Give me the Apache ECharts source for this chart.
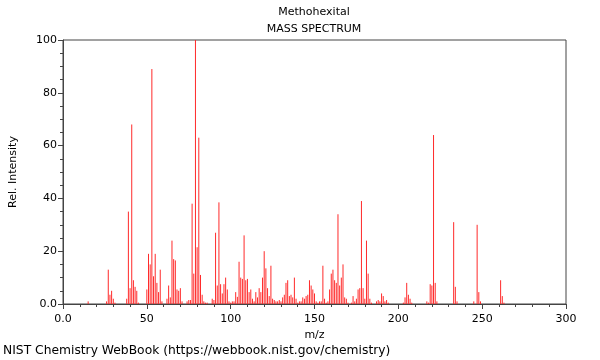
<!DOCTYPE html>
<html>
<head>
<meta charset="utf-8">
<script src="https://cdn.jsdelivr.net/npm/echarts@6/dist/echarts.min.js"></script>
<style>
html,body{margin:0;padding:0;background:#fff;}
#chart{width:600px;height:360px;}
</style>
</head>
<body>
<div id="chart"></div>
<script>
const mzValues = [15,26,27,28,29,30,31,38,39,40,41,42,43,44,45,50,51,52,53,54,55,56,57,58,59,62,63,64,65,66,67,68,69,70,71,74,75,76,77,78,79,80,81,82,83,84,85,86,89,90,91,92,93,94,95,96,97,98,99,100,101,102,103,104,105,106,107,108,109,110,111,112,113,114,115,116,117,118,119,120,121,122,123,124,125,126,127,128,129,130,131,132,133,134,135,136,137,138,139,140,141,142,143,144,145,146,147,148,149,150,151,152,153,154,155,156,157,158,159,160,161,162,163,164,165,166,167,168,169,170,172,173,174,175,176,177,178,179,180,181,182,183,184,187,188,189,190,191,192,193,194,203,204,205,206,207,208,217,218,219,220,221,222,223,233,234,235,245,247,248,249,261,262,263];
const intensities = [1,1,13,3.5,5,2,0.5,2,35,6,68,9,6.5,5,0.5,5.5,19,15,89,10.5,19,8,4.5,13,1,2,7,2.5,24,17,16.5,5.5,5,6,1,1,1.5,1.5,38,11.5,100,21.5,63,11,3.5,1,0.5,0.5,2,1.5,27,7,38.5,7.5,4,7.5,10,5.5,1,0.5,1,1,4.5,2.7,16,10,9.5,26,9,9.5,4.5,5.5,2,1,4.5,2.5,6,4.5,10,20,13.5,6,3,14.5,2,1.5,1,1,1.5,1,2.5,3.5,8,9,3,3.5,2.5,10,2,0.5,1,1,2.5,2,3,3.5,9,7,5.5,4,1,0.5,1,1,14.5,2,0.5,1,5.5,11.5,13,9,8,34,7,10,15,2.5,2,0.5,0.5,3,1,2,5.5,6,39,6,2,24,11.5,2,0.5,1,1.5,1,4,3,1,1.5,0.5,0.5,2.5,8,3.5,2,0.5,1,0.5,7.5,7,64,8,1,31,6.5,1,1,30,4.5,1,9,3,0.5];
const titleText = 'Methohexital';
const subtitleText = 'MASS SPECTRUM';
const xAxisName = 'm/z';
const yAxisName = 'Rel. Intensity';
const footerText = 'NIST Chemistry WebBook (https://webbook.nist.gov/chemistry)';

const data = mzValues.map((m, i) => [m, intensities[i]]);
const font = 'DejaVu Sans';
const chart = echarts.init(document.getElementById('chart'), null, {renderer: 'canvas'});
chart.setOption({
  animation: false,
  backgroundColor: '#ffffff',
  title: [
    {text: titleText, left: 314, top: 7, textAlign: 'center', padding: 0,
     textStyle: {fontFamily: font, fontSize: 11, fontWeight: 'normal', color: '#000'}},
    {text: subtitleText, left: 314, top: 24, textAlign: 'center', padding: 0,
     textStyle: {fontFamily: font, fontSize: 11, fontWeight: 'normal', color: '#000'}},
    {text: footerText, left: 3, top: 345, padding: 0,
     textStyle: {fontFamily: font, fontSize: 12.3, fontWeight: 'normal', color: '#000'}}
  ],
  grid: {left: 62, right: 34, top: 40, bottom: 56, show: true, borderColor: '#444', borderWidth: 1, backgroundColor: 'transparent'},
  xAxis: {
    type: 'value', min: 0, max: 300, interval: 50,
    name: xAxisName, nameLocation: 'middle', nameGap: 26,
    nameTextStyle: {fontFamily: font, fontSize: 11, color: '#000'},
    axisLine: {show: true, onZero: false, lineStyle: {color: '#444'}},
    axisTick: {show: true, length: 5, lineStyle: {color: '#444'}},
    minorTick: {show: true, splitNumber: 5, length: 3, lineStyle: {color: '#444'}},
    splitLine: {show: false},
    axisLabel: {fontFamily: font, fontSize: 11, color: '#000', margin: 10,
      formatter: v => v === 0 ? '0.0' : String(v)}
  },
  yAxis: {
    type: 'value', min: 0, max: 100, interval: 20,
    name: yAxisName, nameLocation: 'middle', nameGap: 44, nameRotate: 90,
    nameTextStyle: {fontFamily: font, fontSize: 11, color: '#000'},
    axisLine: {show: true, lineStyle: {color: '#444'}},
    axisTick: {show: true, length: 5, lineStyle: {color: '#444'}},
    minorTick: {show: true, splitNumber: 4, length: 3, lineStyle: {color: '#444'}},
    splitLine: {show: false},
    axisLabel: {fontFamily: font, fontSize: 11, color: '#000', margin: 6,
      formatter: v => v === 0 ? '0.0' : String(v)}
  },
  series: [{
    type: 'custom',
    data: data,
    clip: true,
    renderItem: function (params, api) {
      const x = api.value(0), y = api.value(1);
      const p0 = api.coord([x, 0]);
      const p1 = api.coord([x, y]);
      return {
        type: 'line',
        shape: {x1: p0[0], y1: p0[1], x2: p1[0], y2: p1[1]},
        style: {stroke: '#ff2a2a', lineWidth: 1}
      };
    }
  }]
});
</script>
</body>
</html>
